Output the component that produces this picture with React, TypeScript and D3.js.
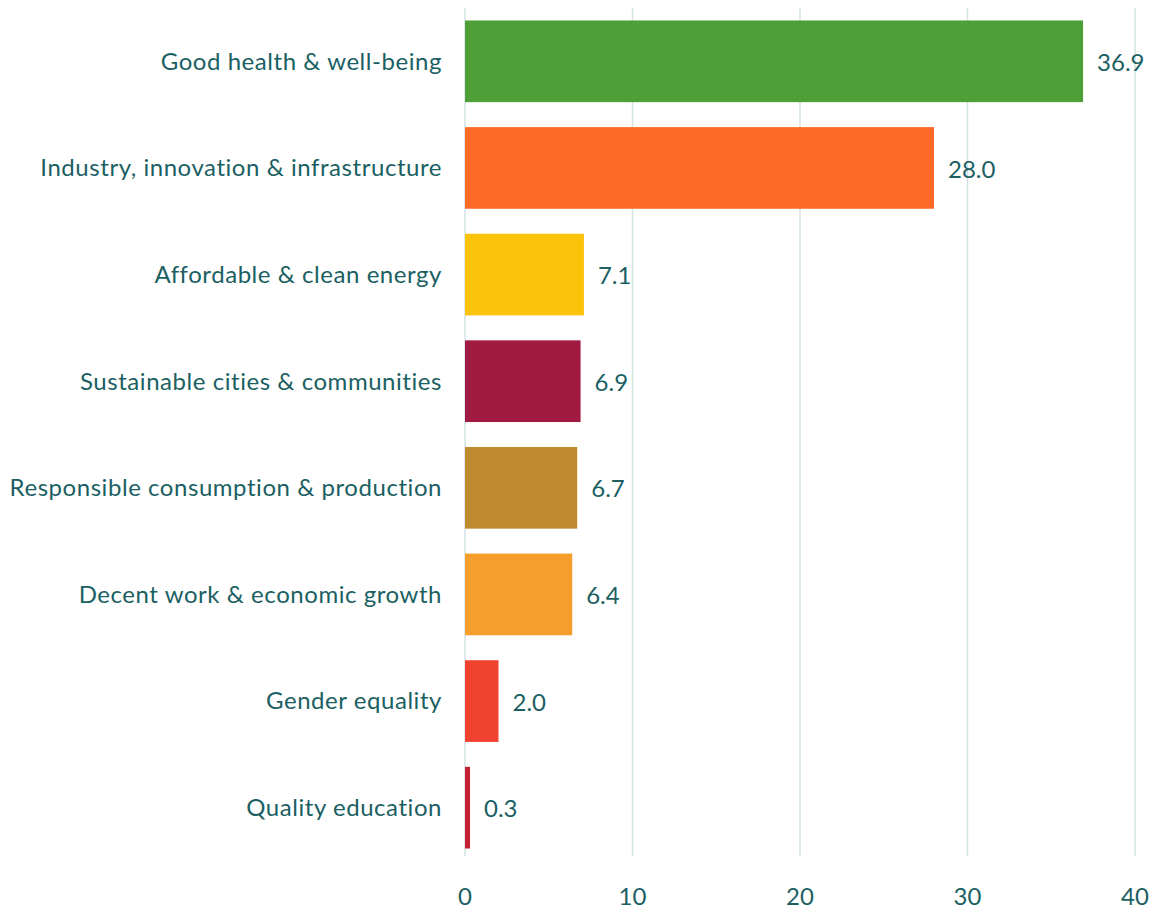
import React from "react";
import * as d3 from "d3";

const categories = [
  "Good health & well-being",
  "Industry, innovation & infrastructure",
  "Affordable & clean energy",
  "Sustainable cities & communities",
  "Responsible consumption & production",
  "Decent work & economic growth",
  "Gender equality",
  "Quality education",
];
const values = [36.9, 28.0, 7.1, 6.9, 6.7, 6.4, 2.0, 0.3];
const colors = ["#4e9f38", "#fd6a27", "#fcc30b", "#a11a41", "#bf8b2e", "#f69e2b", "#f0432f", "#c5202f"];
const xTicks = [0, 10, 20, 30, 40];

const W = 1153;
const H = 909;
const textColor = "#1b5f63";
const font = "Lato, Carlito, Calibri, sans-serif";

export default function App() {
  const x = d3.scaleLinear().domain([0, 40]).range([465, 1135]);
  const y = d3
    .scaleBand<string>()
    .domain(categories)
    .range([8, 861])
    .paddingInner(0.234)
    .paddingOuter(0.117);

  return (
    <svg width={W} height={H} style={{ position: "absolute", left: 0, top: 0 }}>
      <rect width={W} height={H} fill="#ffffff" />
      {xTicks.map((t) => (
        <g key={t}>
          <line x1={x(t)} x2={x(t)} y1={8} y2={856} stroke="#d3e2e5" strokeWidth={1.5} />
          <text
            x={x(t)}
            y={905}
            textAnchor="middle"
            fontFamily={font}
            fontSize={24}
            fill={textColor}
          >
            {t}
          </text>
        </g>
      ))}
      {categories.map((c, i) => {
        const yy = y(c)!;
        const bw = y.bandwidth();
        return (
          <g key={c}>
            <rect x={x(0)} y={yy} width={x(values[i]) - x(0)} height={bw} fill={colors[i]} />
            <text
              x={442}
              y={yy + bw / 2}
              dy="0.35em"
              textAnchor="end"
              fontFamily={font}
              fontSize={24}
              letterSpacing={0.55}
              fill={textColor}
            >
              {c}
            </text>
            <text
              x={x(values[i]) + 14}
              y={yy + bw / 2}
              dy="0.4em"
              fontFamily={font}
              fontSize={24}
              fill={textColor}
            >
              {values[i].toFixed(1)}
            </text>
          </g>
        );
      })}
    </svg>
  );
}
